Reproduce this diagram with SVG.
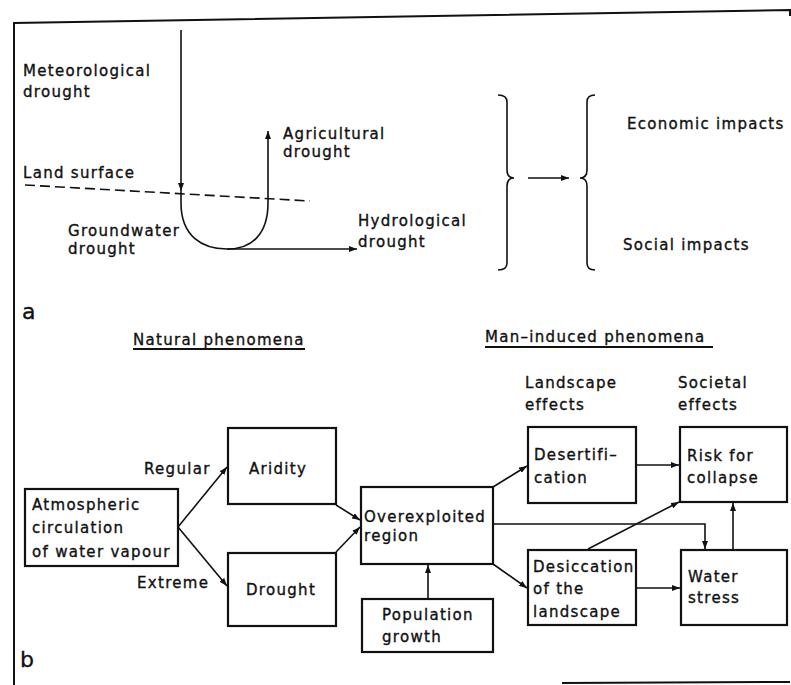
<svg xmlns="http://www.w3.org/2000/svg" width="791" height="685" viewBox="0 0 791 685">
<style>
text{font-family:"DejaVu Sans","Liberation Sans",sans-serif;font-size:15px;letter-spacing:1.3px;fill:#111;stroke:#111;stroke-width:0.35}
.big{font-size:22px;letter-spacing:0}
.box{fill:#fff;stroke:#111;stroke-width:2.2}
.ln{fill:none;stroke:#111;stroke-width:1.6}
.frame{fill:none;stroke:#111;stroke-width:2}
.ul{stroke:#111;stroke-width:1.8}
</style>
<defs>
<marker id="ah" viewBox="0 0 8 6" refX="8" refY="3" markerWidth="8" markerHeight="6" markerUnits="userSpaceOnUse" orient="auto"><path d="M0,0 L8,3 L0,6 z" fill="#111"/></marker>
</defs>
<rect width="791" height="685" fill="#fff"/>
<g id="frame">
<path class="frame" d="M14,685 V23 L790,10 V16"/>
<path class="frame" d="M562,683 L790,682"/>
</g>
<g id="part-a">
<text x="23" y="76">Meteorological</text>
<text x="23" y="97">drought</text>
<text x="283" y="139">Agricultural</text>
<text x="283" y="157">drought</text>
<text x="23" y="178">Land surface</text>
<text x="68" y="236">Groundwater</text>
<text x="68" y="254">drought</text>
<text x="358" y="226">Hydrological</text>
<text x="358" y="247">drought</text>
<text x="627" y="129">Economic impacts</text>
<text x="623" y="250">Social impacts</text>
<path class="ln" d="M25,185 L310,201" stroke-dasharray="10 5" stroke-width="2"/>
<path class="ln" stroke-width="2" d="M498,95 Q507,95 507,102 V170 Q507,178 514,178 Q507,178 507,186 V263 Q507,270 498,270"/>
<path class="ln" stroke-width="2" d="M595,95 Q587,95 587,102 V170 Q587,178 580,178 Q587,178 587,186 V263 Q587,270 595,270"/>
<text class="big" x="22" y="319">a</text>
</g>
<g id="connectors-a">
<path class="ln" d="M181,30 V191" marker-end="url(#ah)"/>
<path class="ln" d="M181,191 V203 C181,236 202,249 227,249 C252,249 268,234 268,203 V131" marker-end="url(#ah)"/>
<path class="ln" d="M227,249 H357" marker-end="url(#ah)"/>
<path class="ln" stroke-width="2" d="M528,178 H569" marker-end="url(#ah)"/>
</g>
<g id="headings">
<text x="133" y="345">Natural phenomena</text>
<line class="ul" x1="133" y1="349" x2="305" y2="349"/>
<text x="485" y="342">Man–induced phenomena</text>
<line class="ul" x1="485" y1="347" x2="713" y2="347"/>
<text x="525" y="388">Landscape</text>
<text x="525" y="410">effects</text>
<text x="678" y="388">Societal</text>
<text x="678" y="410">effects</text>
<text x="144" y="474">Regular</text>
<text x="137" y="588">Extreme</text>
<text class="big" x="20" y="667">b</text>
</g>
<g id="atmos">
<rect class="box" x="25" y="489" width="153" height="77"/>
<text x="32" y="510">Atmospheric</text>
<text x="32" y="533">circulation</text>
<text x="32" y="557">of water vapour</text>
</g>
<g id="aridity">
<rect class="box" x="228" y="428" width="108" height="76"/>
<text x="249" y="474">Aridity</text>
</g>
<g id="drought">
<rect class="box" x="228" y="553" width="108" height="73"/>
<text x="246" y="595">Drought</text>
</g>
<g id="overexploited">
<rect class="box" x="361" y="487" width="132" height="77"/>
<text x="364" y="522">Overexploited</text>
<text x="364" y="541">region</text>
</g>
<g id="population">
<rect class="box" x="362" y="599" width="131" height="53"/>
<text x="382" y="620">Population</text>
<text x="382" y="642">growth</text>
</g>
<g id="desertification">
<rect class="box" x="528" y="427" width="108" height="76"/>
<text x="534" y="460">Desertifi–</text>
<text x="534" y="483">cation</text>
</g>
<g id="desiccation">
<rect class="box" x="528" y="550" width="108" height="75"/>
<text x="533" y="572">Desiccation</text>
<text x="533" y="594">of the</text>
<text x="533" y="617">landscape</text>
</g>
<g id="risk">
<rect class="box" x="680" y="427" width="107" height="75"/>
<text x="687" y="461">Risk for</text>
<text x="687" y="483">collapse</text>
</g>
<g id="water-stress">
<rect class="box" x="681" y="550" width="106" height="75"/>
<text x="688" y="582">Water</text>
<text x="688" y="603">stress</text>
</g>
<g id="connectors-b">
<path class="ln" d="M178,527 L227,467" marker-end="url(#ah)"/>
<path class="ln" d="M178,527 L227,586" marker-end="url(#ah)"/>
<path class="ln" d="M336,505 L360,520" marker-end="url(#ah)"/>
<path class="ln" d="M336,552 L360,527" marker-end="url(#ah)"/>
<path class="ln" d="M428,598 V565" marker-end="url(#ah)"/>
<path class="ln" d="M493,487 L527,466" marker-end="url(#ah)"/>
<path class="ln" d="M493,564 L527,588" marker-end="url(#ah)"/>
<path class="ln" d="M493,524 H705 V549" marker-end="url(#ah)"/>
<path class="ln" d="M636,465 H679" marker-end="url(#ah)"/>
<path class="ln" d="M636,588 H680" marker-end="url(#ah)"/>
<path class="ln" d="M588,549 L679,502" marker-end="url(#ah)"/>
<path class="ln" d="M733,549 V503" marker-end="url(#ah)"/>
</g>
</svg>
